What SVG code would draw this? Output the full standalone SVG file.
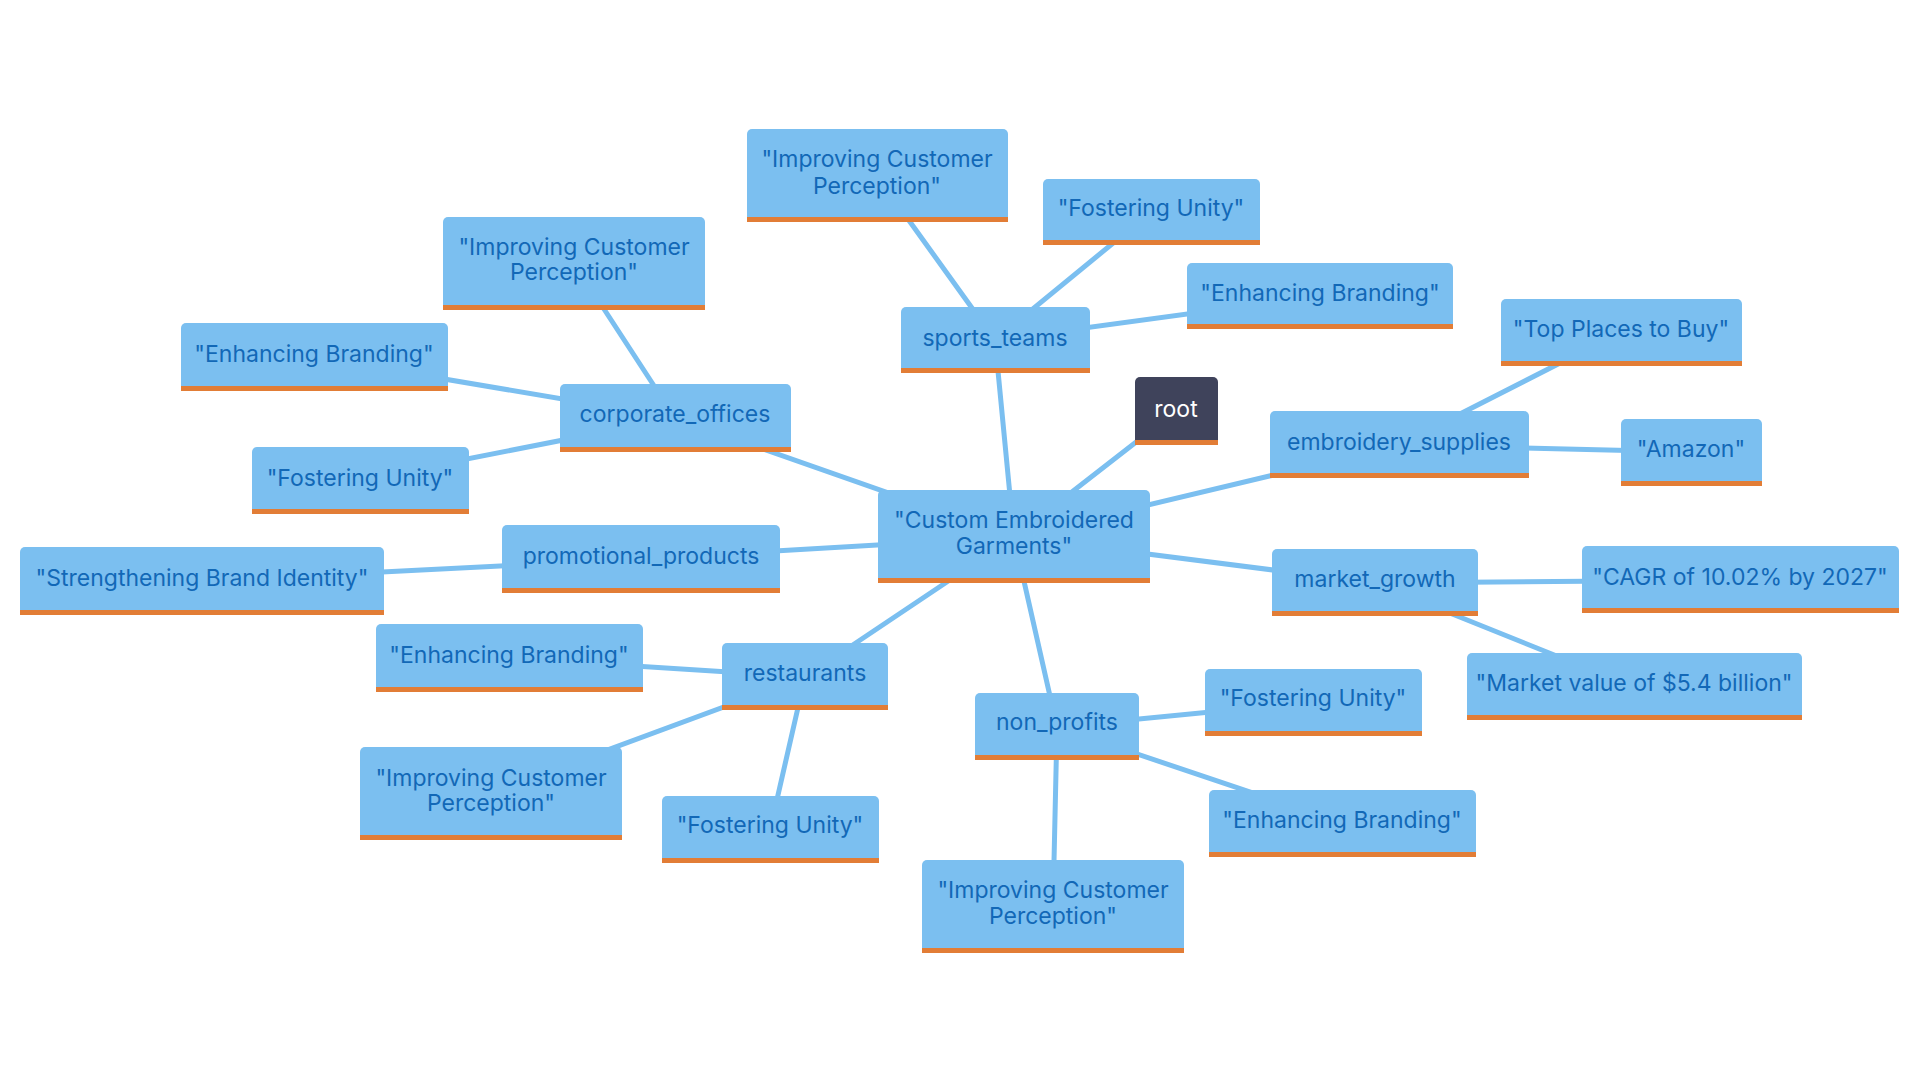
<svg xmlns="http://www.w3.org/2000/svg" width="1920" height="1080" viewBox="0 0 1920 1080">
<style>
.n rect.b{fill:#7BBFF0}
.n rect.o{fill:#E27D36}
.n text{font-family:Inter,"Noto Sans",sans-serif;font-size:23px;fill:#1268B7;text-anchor:middle;dominant-baseline:central}
.r rect.b{fill:#3F435B}
.r text{fill:#FFFFFF}
.e line{stroke:#7BBFF0;stroke-width:5;stroke-linecap:round}
</style>
<rect width="1920" height="1080" fill="#FFFFFF"/>
<g id="connectors" class="e">
<line x1="1014" y1="537" x2="1176" y2="411"/>
<line x1="1014" y1="537" x2="995" y2="340"/>
<line x1="1014" y1="537" x2="1399" y2="445"/>
<line x1="1014" y1="537" x2="1375" y2="583"/>
<line x1="1014" y1="537" x2="675" y2="418"/>
<line x1="1014" y1="537" x2="641" y2="559"/>
<line x1="1014" y1="537" x2="805" y2="677"/>
<line x1="1014" y1="537" x2="1057" y2="727"/>
<line x1="995" y1="340" x2="877" y2="176"/>
<line x1="995" y1="340" x2="1151" y2="212"/>
<line x1="995" y1="340" x2="1320" y2="296"/>
<line x1="1399" y1="445" x2="1621" y2="332"/>
<line x1="1399" y1="445" x2="1691" y2="452"/>
<line x1="1375" y1="583" x2="1740" y2="580"/>
<line x1="1375" y1="583" x2="1634" y2="687"/>
<line x1="675" y1="418" x2="574" y2="263"/>
<line x1="675" y1="418" x2="314" y2="357"/>
<line x1="675" y1="418" x2="360" y2="480"/>
<line x1="641" y1="559" x2="202" y2="581"/>
<line x1="805" y1="677" x2="509" y2="658"/>
<line x1="805" y1="677" x2="491" y2="793"/>
<line x1="805" y1="677" x2="770" y2="830"/>
<line x1="1057" y1="727" x2="1313" y2="702"/>
<line x1="1057" y1="727" x2="1342" y2="823"/>
<line x1="1057" y1="727" x2="1053" y2="906"/>
</g>
<g id="center" class="n"><rect class="b" x="878" y="490" width="272" height="93" rx="5"/><rect class="o" x="878" y="578" width="272" height="5"/><text x="1014" y="520">"Custom Embroidered</text><text x="1014" y="546">Garments"</text></g>
<g id="root" class="n r"><rect class="b" x="1135" y="377" width="83" height="68" rx="5"/><rect class="o" x="1135" y="440" width="83" height="5"/><text x="1176" y="409">root</text></g>
<g id="sports_teams" class="n"><rect class="b" x="901" y="307" width="189" height="66" rx="5"/><rect class="o" x="901" y="368" width="189" height="5"/><text x="995" y="338">sports_teams</text></g>
<g id="sports_icp" class="n"><rect class="b" x="747" y="129" width="261" height="93" rx="5"/><rect class="o" x="747" y="217" width="261" height="5"/><text x="877" y="159">"Improving Customer</text><text x="877" y="186">Perception"</text></g>
<g id="sports_fu" class="n"><rect class="b" x="1043" y="179" width="217" height="66" rx="5"/><rect class="o" x="1043" y="240" width="217" height="5"/><text x="1151" y="208">"Fostering Unity"</text></g>
<g id="sports_eb" class="n"><rect class="b" x="1187" y="263" width="266" height="66" rx="5"/><rect class="o" x="1187" y="324" width="266" height="5"/><text x="1320" y="293">"Enhancing Branding"</text></g>
<g id="embroidery_supplies" class="n"><rect class="b" x="1270" y="411" width="259" height="67" rx="5"/><rect class="o" x="1270" y="473" width="259" height="5"/><text x="1399" y="442">embroidery_supplies</text></g>
<g id="top_places" class="n"><rect class="b" x="1501" y="299" width="241" height="67" rx="5"/><rect class="o" x="1501" y="361" width="241" height="5"/><text x="1621" y="329">"Top Places to Buy"</text></g>
<g id="amazon" class="n"><rect class="b" x="1621" y="419" width="141" height="67" rx="5"/><rect class="o" x="1621" y="481" width="141" height="5"/><text x="1691" y="449">"Amazon"</text></g>
<g id="market_growth" class="n"><rect class="b" x="1272" y="549" width="206" height="67" rx="5"/><rect class="o" x="1272" y="611" width="206" height="5"/><text x="1375" y="579">market_growth</text></g>
<g id="cagr" class="n"><rect class="b" x="1582" y="546" width="317" height="67" rx="5"/><rect class="o" x="1582" y="608" width="317" height="5"/><text x="1740" y="577">"CAGR of 10.02% by 2027"</text></g>
<g id="market_value" class="n"><rect class="b" x="1467" y="653" width="335" height="67" rx="5"/><rect class="o" x="1467" y="715" width="335" height="5"/><text x="1634" y="683">"Market value of $5.4 billion"</text></g>
<g id="corporate_offices" class="n"><rect class="b" x="560" y="384" width="231" height="68" rx="5"/><rect class="o" x="560" y="447" width="231" height="5"/><text x="675" y="414">corporate_offices</text></g>
<g id="corp_icp" class="n"><rect class="b" x="443" y="217" width="262" height="93" rx="5"/><rect class="o" x="443" y="305" width="262" height="5"/><text x="574" y="247">"Improving Customer</text><text x="574" y="272">Perception"</text></g>
<g id="corp_eb" class="n"><rect class="b" x="181" y="323" width="267" height="68" rx="5"/><rect class="o" x="181" y="386" width="267" height="5"/><text x="314" y="354">"Enhancing Branding"</text></g>
<g id="corp_fu" class="n"><rect class="b" x="252" y="447" width="217" height="67" rx="5"/><rect class="o" x="252" y="509" width="217" height="5"/><text x="360" y="478">"Fostering Unity"</text></g>
<g id="promotional_products" class="n"><rect class="b" x="502" y="525" width="278" height="68" rx="5"/><rect class="o" x="502" y="588" width="278" height="5"/><text x="641" y="556">promotional_products</text></g>
<g id="promo_sbi" class="n"><rect class="b" x="20" y="547" width="364" height="68" rx="5"/><rect class="o" x="20" y="610" width="364" height="5"/><text x="202" y="578">"Strengthening Brand Identity"</text></g>
<g id="restaurants" class="n"><rect class="b" x="722" y="643" width="166" height="67" rx="5"/><rect class="o" x="722" y="705" width="166" height="5"/><text x="805" y="673">restaurants</text></g>
<g id="rest_eb" class="n"><rect class="b" x="376" y="624" width="267" height="68" rx="5"/><rect class="o" x="376" y="687" width="267" height="5"/><text x="509" y="655">"Enhancing Branding"</text></g>
<g id="rest_icp" class="n"><rect class="b" x="360" y="747" width="262" height="93" rx="5"/><rect class="o" x="360" y="835" width="262" height="5"/><text x="491" y="778">"Improving Customer</text><text x="491" y="803">Perception"</text></g>
<g id="rest_fu" class="n"><rect class="b" x="662" y="796" width="217" height="67" rx="5"/><rect class="o" x="662" y="858" width="217" height="5"/><text x="770" y="825">"Fostering Unity"</text></g>
<g id="non_profits" class="n"><rect class="b" x="975" y="693" width="164" height="67" rx="5"/><rect class="o" x="975" y="755" width="164" height="5"/><text x="1057" y="722">non_profits</text></g>
<g id="np_fu" class="n"><rect class="b" x="1205" y="669" width="217" height="67" rx="5"/><rect class="o" x="1205" y="731" width="217" height="5"/><text x="1313" y="698">"Fostering Unity"</text></g>
<g id="np_eb" class="n"><rect class="b" x="1209" y="790" width="267" height="67" rx="5"/><rect class="o" x="1209" y="852" width="267" height="5"/><text x="1342" y="820">"Enhancing Branding"</text></g>
<g id="np_icp" class="n"><rect class="b" x="922" y="860" width="262" height="93" rx="5"/><rect class="o" x="922" y="948" width="262" height="5"/><text x="1053" y="890">"Improving Customer</text><text x="1053" y="916">Perception"</text></g>
</svg>
